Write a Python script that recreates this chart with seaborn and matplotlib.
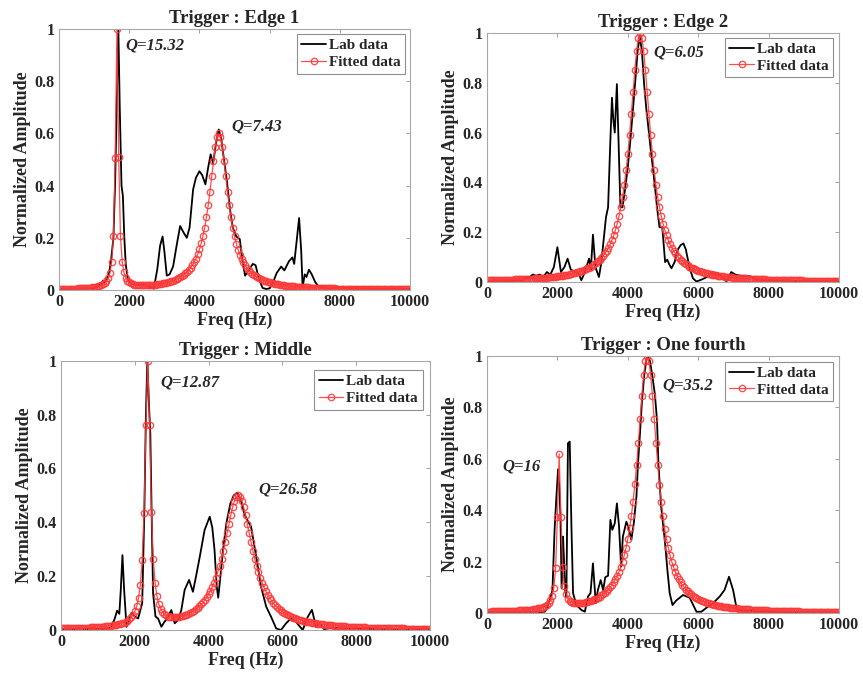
import numpy as np
import matplotlib
matplotlib.use("Agg")
import matplotlib.pyplot as plt
import seaborn as sns

# ---------------- data ----------------
TITLES = ["Trigger : Edge 1", "Trigger : Edge 2", "Trigger : Middle", "Trigger : One fourth"]
SERIES_NAMES = ["Lab data", "Fitted data"]
X_TICKS = [0, 2000, 4000, 6000, 8000, 10000]
X_TICK_LABELS = ["0", "2000", "4000", "6000", "8000", "10000"]
Y_TICKS = [0, 0.2, 0.4, 0.6, 0.8, 1.0]
Y_TICK_LABELS = ["0", "0.2", "0.4", "0.6", "0.8", "1"]
Q_LABELS = [["Q=15.32", "Q=7.43"], ["Q=6.05"], ["Q=12.87", "Q=26.58"], ["Q=35.2", "Q=16"]]

# fitted curves are sampled every 50 Hz from 0 to 10000 Hz
FIT_STEP_HZ = 50
FIT_FREQ = np.arange(0, 10000 + FIT_STEP_HZ, FIT_STEP_HZ)

FIT_EDGE1 = [
    .004, .0041, .0042, .0044, .0045, .0047, .0049, .0051, .0053, .0054,
    .0057, .006, .0063, .0066, .007, .0075, .008, .0085, .0091, .010,
    .0109, .012, .0135, .0153, .0178, .0212, .0259, .0331, .0448, .0653,
    .107, .207, .507, 1.0, .508, .208, .108, .0674, .0474, .0362,
    .0296, .0254, .0226, .0207, .0195, .0186, .0182, .0179, .0178, .0179,
    .0182, .0185, .019, .0196, .0203, .021, .0219, .0229, .024, .0253,
    .0267, .0282, .0299, .0318, .0339, .0363, .0389, .0419, .0452, .049,
    .0532, .058, .0636, .0698, .0771, .0856, .0954, .1065, .1205, .1365,
    .1555, .1785, .2065, .2394, .2784, .3244, .3774, .4354, .4954, .5484,
    .5864, .6004, .586, .548, .495, .435, .377, .324, .278, .239,
    .206, .178, .155, .136, .120, .106, .0952, .0852, .0767, .0694,
    .0631, .0575, .0527, .0484, .0446, .0412, .0382, .0355, .0331, .0309,
    .0289, .0271, .0255, .024, .0226, .0214, .0202, .0191, .0182, .0173,
    .0164, .0156, .0149, .0142, .0136, .013, .0125, .0119, .0115, .011,
    .0106, .0102, .0098, .0094, .0091, .0088, .0085, .0082, .0079, .0076,
    .0074, .0071, .0069, .0067, .0065, .0063, .0061, .006, .0058, .0056,
    .0055, .0053, .0052, .0051, .0049, .0048, .0047, .0046, .0044, .0043,
    .0042, .0041, .004, .0039, .0039, .0038, .0037, .0036, .0035, .0035,
    .0034, .0033, .0033, .0032, .0031, .0031, .003, .003, .0029, .0029,
    .0028, .0028, .0027, .0027, .0026, .0026, .0025, .0025, .0024, .0024,
    .0023,
]

FIT_EDGE2 = [
    .007, .007, .007, .007, .0075, .0077, .0078, .008, .0082, .0084,
    .0087, .0089, .0091, .0094, .0096, .0099, .0102, .0105, .0108, .0111,
    .0114, .0118, .0121, .0125, .0129, .0133, .0137, .0142, .0147, .0152,
    .0157, .0163, .0168, .0175, .0181, .0188, .0195, .0203, .0211, .022,
    .0229, .0239, .025, .0261, .0273, .0285, .0299, .0314, .033, .0347,
    .0365, .0385, .0406, .0429, .0454, .0482, .0512, .0545, .0581, .062,
    .0664, .0712, .0766, .0826, .0893, .0967, .105, .115, .126, .138,
    .152, .168, .187, .209, .235, .265, .300, .341, .390, .448,
    .514, .590, .675, .764, .852, .928, .981, 1.0, .981, .928,
    .852, .764, .675, .590, .514, .448, .390, .341, .300, .265,
    .235, .209, .187, .168, .152, .138, .126, .115, .105, .0967,
    .0893, .0826, .0766, .0712, .0664, .062, .0581, .0545, .0512, .0482,
    .0454, .0429, .0406, .0385, .0365, .0347, .033, .0314, .0299, .0285,
    .0273, .0261, .025, .0239, .0229, .022, .0211, .0203, .0195, .0188,
    .0181, .0175, .0168, .0163, .0157, .0152, .0147, .0142, .0137, .0133,
    .0129, .0125, .0121, .0118, .0114, .0111, .0108, .0105, .0102, .0099,
    .0096, .0094, .0091, .0089, .0087, .0084, .0082, .008, .0078, .0077,
    .0075, .0073, .0071, .007, .0068, .0067, .0065, .0064, .0063, .0061,
    .006, .0058, .0057, .0056, .0055, .0054, .0053, .0052, .0051, .005,
    .0049, .0048, .0047, .0046, .0045, .0044, .0044, .0043, .0042, .0041,
    .004,
]

FIT_MIDDLE = [
    .0061, .0062, .0064, .0066, .0068, .0069, .0071, .0073, .0075, .0078,
    .008, .0082, .0086, .0088, .0091, .0094, .0098, .0102, .0105, .011,
    .0115, .012, .0125, .0131, .0137, .0145, .0153, .0162, .0172, .0184,
    .0198, .0213, .0232, .0253, .0279, .0312, .0351, .0403, .047, .0563,
    .0692, .0883, .1185, .168, .2586, .4351, .7598, 1.0, .7611, .4378,
    .2626, .1735, .1253, .0966, .079, .0675, .0599, .0548, .0491, .0477,
    .0471, .047, .0474, .0482, .0493, .0508, .0528, .055, .0575, .0605,
    .0639, .0677, .072, .0769, .0823, .0883, .0952, .103, .1117, .1216,
    .1328, .1455, .1598, .1762, .1946, .2155, .239, .2652, .2941, .3257,
    .3589, .3929, .4261, .456, .4801, .4958, .5012, .4957, .48, .4559,
    .4258, .3926, .3585, .3251, .2935, .2645, .2382, .2146, .1935, .175,
    .1585, .144, .1312, .1198, .1097, .1008, .0928, .0857, .0794, .0736,
    .0684, .0638, .0596, .0558, .0523, .0492, .0462, .0435, .0411, .0389,
    .0368, .0349, .0332, .0315, .0299, .0285, .0272, .026, .0248, .0238,
    .0228, .0218, .021, .0201, .0192, .0185, .0178, .0172, .0165, .016,
    .0154, .0149, .0144, .0139, .0135, .013, .0125, .0121, .0118, .0114,
    .0111, .0108, .0104, .0102, .0099, .0096, .0093, .0091, .0089, .0086,
    .0084, .0082, .008, .0077, .0075, .0073, .0072, .007, .0068, .0067,
    .0065, .0064, .0062, .0061, .006, .0058, .0057, .0056, .0055, .0054,
    .0053, .0052, .0051, .005, .0049, .0048, .0047, .0047, .0046, .0045,
    .0044,
]

FIT_FOURTH = [
    .0064, .0066, .0067, .0069, .0071, .0073, .0074, .0077, .0079, .0081,
    .0083, .0086, .0089, .0091, .0094, .0097, .01, .0104, .0108, .0112,
    .0116, .0121, .0127, .0132, .0139, .0146, .0154, .0163, .0174, .0187,
    .0203, .0222, .0247, .028, .0326, .0392, .0497, .0677, .0998, .1768,
    .3725, .6192, .374, .1798, .1044, .0738, .0574, .0485, .0435, .0406,
    .0391, .0385, .0385, .0389, .0398, .0409, .0424, .0442, .0462, .0484,
    .051, .0538, .0571, .0606, .0647, .0691, .0741, .0797, .086, .093,
    .1011, .1101, .1205, .1323, .1459, .1615, .1796, .2007, .2255, .2545,
    .2888, .3295, .3774, .4341, .5005, .577, .6627, .7542, .8452, .9249,
    .9804, 1.0, .9804, .9248, .8451, .7541, .6625, .5768, .5003, .4339,
    .3772, .3292, .2885, .2542, .2251, .2003, .1791, .161, .1453, .1317,
    .1198, .1094, .1003, .0922, .0851, .0787, .073, .0679, .0633, .0591,
    .0554, .0519, .0488, .046, .0434, .041, .0388, .0367, .0349, .0331,
    .0315, .03, .0286, .0273, .0261, .0249, .0239, .0229, .022, .0211,
    .0203, .0195, .0188, .0181, .0174, .0168, .0162, .0157, .0152, .0147,
    .0142, .0137, .0133, .0129, .0125, .0121, .0118, .0114, .0111, .0108,
    .0105, .0102, .0099, .0097, .0094, .0092, .009, .0087, .0085, .0083,
    .0081, .0079, .0077, .0076, .0074, .0072, .0071, .0069, .0068, .0066,
    .0065, .0064, .0062, .0061, .006, .0059, .0057, .0056, .0055, .0054,
    .0053, .0052, .0051, .005, .0049, .0048, .0047, .0047, .0046, .0045,
    .0044,
]

LAB_EDGE1_F = [0, 500, 1000, 1100, 1150, 1200, 1250, 1300, 1350, 1420, 1480, 1550, 1600, 1650,
               1690, 1730, 1780, 1820, 1860, 1900, 1950, 2000, 2100, 2200, 2300, 2400, 2500,
               2600, 2700, 2800, 2880, 2950, 3000, 3070, 3150, 3250, 3350, 3450, 3550, 3640,
               3720, 3820, 3900, 4000, 4080, 4170, 4250, 4320, 4390, 4470, 4550, 4620, 4700,
               4780, 4870, 4950, 5050, 5150, 5220, 5300, 5400, 5520, 5600, 5700, 5800, 5900,
               6000, 6100, 6200, 6330, 6420, 6550, 6650, 6700, 6780, 6840, 6900, 6940, 7000,
               7050, 7120, 7200, 7300, 7400, 7500, 7550, 7650, 8000, 9000, 10000]
LAB_EDGE1_A = [.004, .005, .008, .012, .025, .02, .035, .028, .04, .06, .11, .2, .42, .75,
               1.0, .7, .4, .36, .2, .1, .05, .03, .022, .02, .018, .02, .015,
               .012, .005, .08, .17, .205, .15, .055, .06, .09, .17, .245, .22, .2,
               .24, .385, .43, .455, .44, .405, .47, .52, .485, .56, .615, .58, .5,
               .42, .31, .24, .205, .195, .12, .055, .075, .1, .095, .04, .008, .004,
               .006, .03, .065, .09, .075, .11, .125, .1, .2, .276, .15, .01, .06,
               .05, .078, .06, .03, .012, .01, .015, .005, .008, .004, .003]

LAB_EDGE2_F = [0, 500, 1000, 1100, 1200, 1300, 1400, 1500, 1600, 1700, 1800, 1900, 2000, 2100,
               2200, 2290, 2380, 2500, 2600, 2680, 2780, 2900, 2950, 3010, 3080, 3180, 3250,
               3300, 3380, 3440, 3500, 3550, 3590, 3630, 3690, 3740, 3790, 3850, 3920, 4000,
               4080, 4150, 4220, 4280, 4340, 4400, 4460, 4530, 4600, 4660, 4720, 4780, 4830,
               4900, 4980, 5060, 5120, 5180, 5240, 5330, 5420, 5500, 5580, 5650, 5750, 5850,
               5950, 6100, 6250, 6400, 6550, 6700, 6800, 6940, 7050, 7200, 7350, 7500, 7650,
               8000, 9000, 10000]
LAB_EDGE2_A = [.004, .004, .006, .02, .018, .03, .025, .03, .02, .04, .03, .06, .14, .04,
               .06, .094, .05, .04, .035, .007, .04, .094, .05, .19, .06, .02, .08,
               .15, .26, .3, .55, .74, .65, .6, .795, .55, .3, .3, .37, .46,
               .58, .7, .82, .93, .985, .93, .8, .69, .6, .52, .45, .37, .3,
               .22, .22, .08, .09, .07, .055, .08, .13, .148, .155, .13, .06, .015,
               .002, .01, .02, .04, .035, .02, .002, .04, .03, .025, .025, .022, .01,
               .006, .003, .002]

LAB_MIDDLE_F = [0, 600, 1200, 1350, 1450, 1520, 1580, 1620, 1665, 1710, 1775, 1850, 1910, 2000,
                2090, 2200, 2260, 2300, 2340, 2380, 2420, 2460, 2495, 2560, 2630, 2720, 2800,
                2860, 2990, 3080, 3170, 3260, 3350, 3470, 3575, 3660, 3760, 3890, 4030, 4100,
                4160, 4220, 4260, 4320, 4390, 4480, 4590, 4680, 4775, 4880, 4950, 5020, 5150,
                5290, 5420, 5560, 5690, 5830, 5960, 6100, 6230, 6370, 6550, 6690, 6800, 6910,
                7020, 7130, 7300, 8000, 9000, 10000]
LAB_MIDDLE_A = [.003, .003, .004, .01, .04, .072, .06, .15, .278, .15, .012, .04, .064, .05,
                .043, .1, .45, .8, 1.0, .85, .73, .4, .136, .05, .043, .012, .03,
                .04, .074, .025, .037, .074, .149, .186, .142, .2, .272, .371, .421, .38,
                .297, .161, .12, .2, .297, .396, .47, .5, .51, .48, .44, .415, .384,
                .272, .161, .087, .05, .006, .0, .025, .043, .03, .0, .05, .075, .012,
                .025, .003, .008, .005, .003, .002]

LAB_FOURTH_F = [0, 600, 1200, 1500, 1640, 1730, 1860, 1920, 1970, 2020, 2050, 2085, 2120, 2160,
                2190, 2215, 2255, 2300, 2350, 2400, 2445, 2540, 2680, 2780, 2870, 2940, 3010,
                3090, 3150, 3230, 3300, 3360, 3440, 3505, 3560, 3630, 3690, 3750, 3810, 3860,
                3960, 4030, 4100, 4170, 4245, 4290, 4340, 4400, 4470, 4530, 4570, 4630, 4700,
                4770, 4830, 4870, 4950, 5050, 5125, 5190, 5270, 5380, 5570, 5760, 5950, 6090,
                6280, 6420, 6610, 6750, 6875, 6990, 7100, 7300, 8000, 9000, 10000]
LAB_FOURTH_A = [.003, .003, .004, .005, .006, .026, .09, .324, .45, .56, .5, .389, .097, .298,
                .2, .09, .065, .661, .667, .33, .078, .032, .013, .006, .065, .078, .194,
                .039, .09, .129, .09, .14, .146, .363, .324, .35, .427, .34, .181, .298,
                .356, .33, .285, .35, .453, .583, .686, .82, .93, .985, 1.0, .98, .92,
                .85, .75, .58, .41, .285, .168, .078, .032, .05, .071, .06, .006, .006,
                .026, .039, .065, .091, .142, .091, .013, .01, .006, .003, .002]

LAB_F = [LAB_EDGE1_F, LAB_EDGE2_F, LAB_MIDDLE_F, LAB_FOURTH_F]
LAB_A = [LAB_EDGE1_A, LAB_EDGE2_A, LAB_MIDDLE_A, LAB_FOURTH_A]
FITS = [FIT_EDGE1, FIT_EDGE2, FIT_MIDDLE, FIT_FOURTH]

# ---------------- layout / style ----------------
sns.set_style("white")
plt.rcParams["font.family"] = ["Liberation Serif", "DejaVu Serif"]
plt.rcParams["font.weight"] = "bold"

AX_RECTS = [[.0684, .576, .4067, .3816],
            [.5643, .5877, .4079, .364],
            [.0707, .0789, .4276, .3937],
            [.5643, .1034, .4079, .3762]]
Q_POS = [[(1900, .935), (4900, .628)], [(4740, .92)], [(2680, .918), (5340, .522)],
         [(4990, .887), (440, .57)]]
LEG_ANCHOR = [(.986, .981), (.983, .981), (.98, .965), (.983, .978)]

RED = (1.0, 0.22, 0.22)

fig = plt.figure(figsize=(8.63, 6.84), dpi=100)
for k in range(4):
    ax = fig.add_axes(AX_RECTS[k])
    sns.lineplot(x=LAB_F[k], y=LAB_A[k], ax=ax, color="black", linewidth=1.3,
                 label=SERIES_NAMES[0], estimator=None, sort=False)
    sns.lineplot(x=FIT_FREQ, y=FITS[k], ax=ax, color=RED, linewidth=0.9, alpha=0.9,
                 marker="o", markersize=4.6, markerfacecolor="none",
                 markeredgecolor=RED, markeredgewidth=0.95,
                 label=SERIES_NAMES[1], estimator=None, sort=False)
    ax.set_xlim(0, 10000)
    ax.set_ylim(0, 1)
    ax.set_xticks(X_TICKS)
    ax.set_xticklabels(X_TICK_LABELS, fontsize=11.5, fontweight="bold")
    ax.set_yticks(Y_TICKS)
    ax.set_yticklabels(Y_TICK_LABELS, fontsize=11.5, fontweight="bold")
    ax.tick_params(direction="in", length=3, width=0.6, color="#909090",
                   top=True, right=True, pad=3)
    for sp in ax.spines.values():
        sp.set_color("#a8a8a8")
        sp.set_linewidth(0.8)
    ax.set_xlabel("Freq (Hz)", fontsize=13, fontweight="bold", labelpad=1)
    ax.set_ylabel("Normalized Amplitude", fontsize=13, fontweight="bold", labelpad=3)
    ax.set_title(TITLES[k], fontsize=13.5, fontweight="bold", pad=4)
    for txt, (qx, qy) in zip(Q_LABELS[k], Q_POS[k]):
        ax.text(qx, qy, txt, fontsize=12, fontweight="bold", fontstyle="italic",
                ha="left", va="center")
    leg = ax.legend(loc="upper right", bbox_to_anchor=LEG_ANCHOR[k], borderaxespad=0,
                    prop={"size": 11, "weight": "bold"}, frameon=True, fancybox=False,
                    framealpha=1, edgecolor="#909090", handlelength=1.6,
                    handletextpad=0.2, borderpad=0.3, labelspacing=0.2, numpoints=1)
    leg.get_frame().set_linewidth(0.8)

fig.savefig("out.png", dpi=100)
